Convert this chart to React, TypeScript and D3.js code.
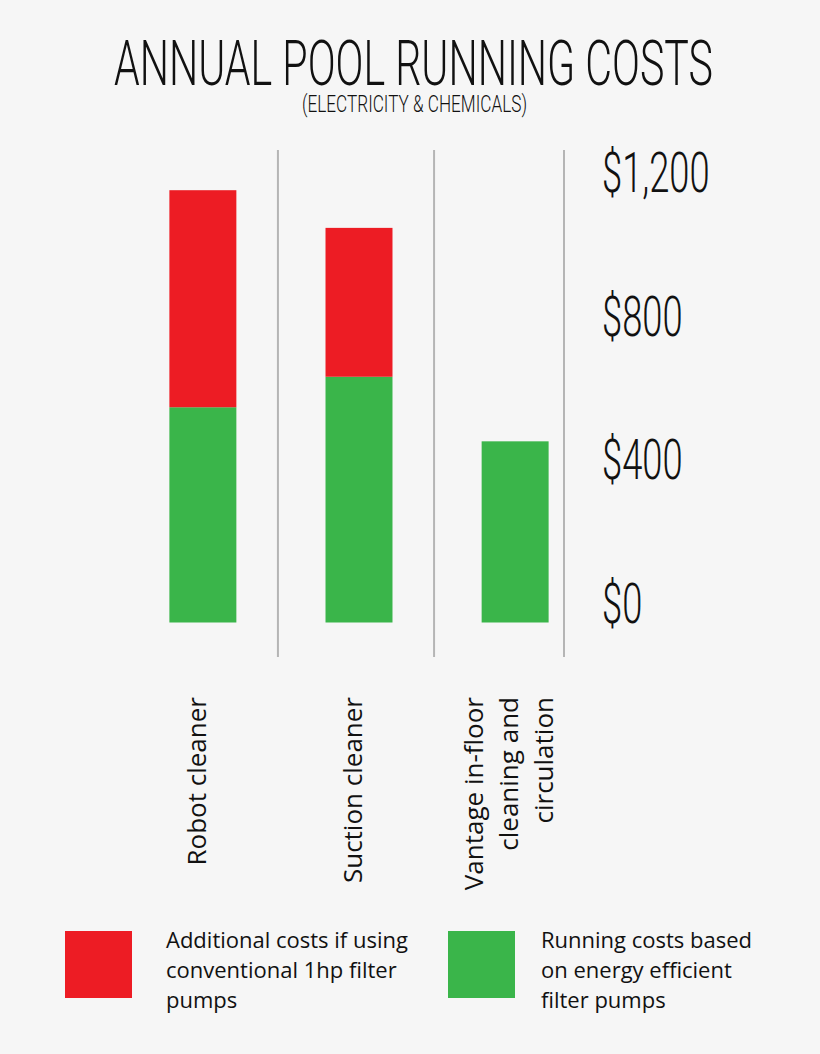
import { useEffect, useRef } from "react";
import * as d3 from "d3";

const categories = ["Robot cleaner", "Suction cleaner", "Vantage in-floor cleaning and circulation"];
// label lines as printed under each bar
const categoryLines = [["Robot cleaner"], ["Suction cleaner"], ["Vantage in-floor", "cleaning and", "circulation"]];
const efficientCosts = [600, 685, 505];
const additionalCosts = [605, 415, 0];
const yTicks = [0, 400, 800, 1200];
const legendLabels = [
    ["Additional costs if using", "conventional 1hp filter", "pumps"],
    ["Running costs based", "on energy efficient", "filter pumps"],
];

const width = 820;
const height = 1054;
const red = "#ed1c24";
const green = "#3ab54a";
const condensed = "Roboto, 'Liberation Sans', sans-serif";
const body = "'Open Sans', 'Noto Sans', sans-serif";

const App = () => {
    const ref = useRef<SVGSVGElement>(null);

    useEffect(() => {
        const svg = d3.select(ref.current);
        svg.selectAll("*").remove();

        svg.append("rect").attr("width", width).attr("height", height).attr("fill", "#f6f6f6");

        // title
        svg.append("text")
            .attr("x", 114).attr("y", 85)
            .attr("textLength", 599).attr("lengthAdjust", "spacingAndGlyphs")
            .attr("font-family", condensed).attr("font-weight", 300).attr("font-size", 63)
            .attr("fill", "#111")
            .text("ANNUAL POOL RUNNING COSTS");
        svg.append("text")
            .attr("x", 302).attr("y", 112)
            .attr("textLength", 225).attr("lengthAdjust", "spacingAndGlyphs")
            .attr("font-family", condensed).attr("font-weight", 300).attr("font-size", 24)
            .attr("fill", "#111")
            .text("(ELECTRICITY & CHEMICALS)");

        const data = categories.map((c, i) => ({
            category: c,
            efficient: efficientCosts[i],
            additional: additionalCosts[i],
        }));

        const x = d3.scaleBand()
            .domain(categories)
            .range([154, 564])
            .paddingInner(0.571)
            .paddingOuter(0.0985);

        const y = d3.scaleLinear().domain([0, 1200]).range([622.5, 192]);

        const series = d3.stack<any>().keys(["efficient", "additional"])(data);
        const colors = { efficient: green, additional: red };

        // dividers between the columns
        const bw = x.bandwidth();
        const gap = x.step() - bw;
        const dividerX = categories.map((c, i) =>
            i < categories.length - 1 ? (x(c) as number) + bw + gap / 2 - 3 : x.range()[1]
        );
        svg.append("g")
            .selectAll("line")
            .data(dividerX)
            .join("line")
            .attr("x1", (d) => d).attr("x2", (d) => d)
            .attr("y1", 150).attr("y2", 657)
            .attr("stroke", "#b5b5b5").attr("stroke-width", 2);

        svg.append("g")
            .selectAll("g")
            .data(series)
            .join("g")
            .attr("fill", (s) => colors[s.key as keyof typeof colors])
            .selectAll("rect")
            .data((s) => s.filter((d) => d[1] > d[0]))
            .join("rect")
            .attr("x", (d) => x(d.data.category) as number)
            .attr("width", bw)
            .attr("y", (d) => y(d[1]))
            .attr("height", (d) => y(d[0]) - y(d[1]));

        // y tick labels on the right
        svg.append("g")
            .selectAll("text")
            .data(yTicks)
            .join("text")
            .attr("transform", (d) => `translate(602,${y(d)}) scale(0.66,1)`)
            .attr("font-family", condensed).attr("font-weight", 300).attr("font-size", 55)
            .attr("fill", "#111")
            .text((d) => "$" + d3.format(",")(d));

        // category labels, rotated
        const lineGap = 35;
        const labels = svg.append("g")
            .selectAll("text")
            .data(categories)
            .join("text")
            .attr("font-family", body).attr("font-size", 26).attr("fill", "#111")
            .attr("text-anchor", "end")
            .attr("transform", (c, i) => {
                const n = categoryLines[i].length;
                const cx = (x(c) as number) + bw / 2 + 3 - ((n - 1) / 2) * lineGap;
                return `translate(${cx},697) rotate(-90)`;
            });
        labels.selectAll("tspan")
            .data((c, i) => categoryLines[i])
            .join("tspan")
            .attr("x", 0)
            .attr("y", (d, j) => j * lineGap)
            .text((d) => d);

        // legend
        const legendX = [65, 448];
        const legendTextX = [166, 541];
        const legendColors = [red, green];
        const legend = svg.append("g")
            .selectAll("g")
            .data(legendLabels)
            .join("g");
        legend.append("rect")
            .attr("x", (d, i) => legendX[i]).attr("y", 931)
            .attr("width", 67).attr("height", 67)
            .attr("fill", (d, i) => legendColors[i]);
        legend.append("text")
            .attr("font-family", body).attr("font-size", 22).attr("fill", "#111")
            .attr("transform", (d, i) => `translate(${legendTextX[i]},948)`)
            .selectAll("tspan")
            .data((d) => d)
            .join("tspan")
            .attr("x", 0)
            .attr("y", (d, j) => j * 30)
            .text((d) => d);
    }, []);

    return (
        <svg
            ref={ref}
            width={width}
            height={height}
            viewBox={`0 0 ${width} ${height}`}
            style={{ position: "absolute", left: 0, top: 0 }}
        />
    );
};

export default App;
